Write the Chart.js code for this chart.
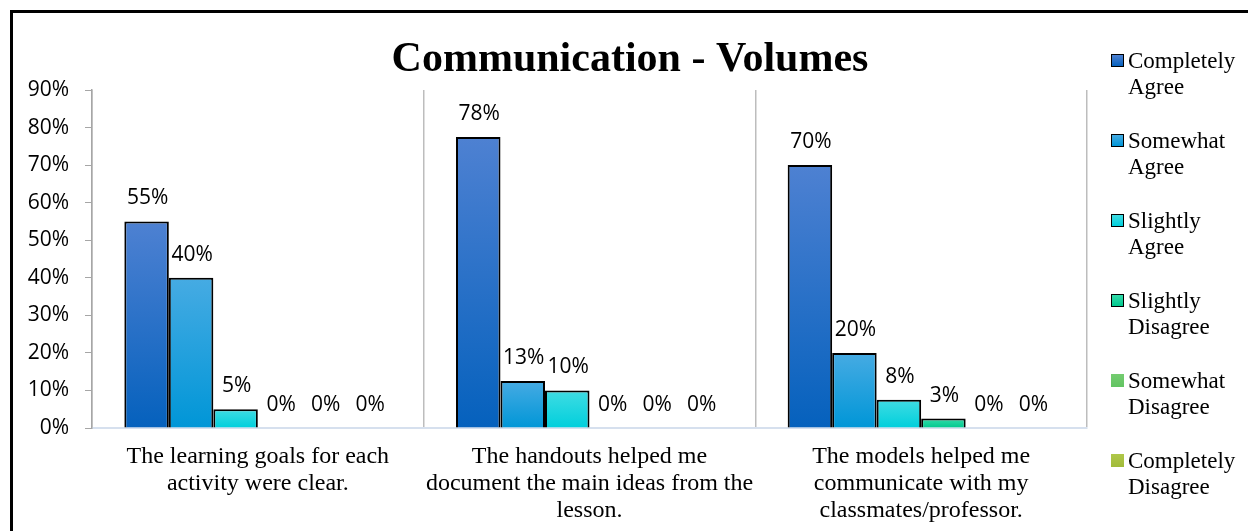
<!DOCTYPE html>
<html>
<head>
<meta charset="utf-8">
<script src="https://cdn.jsdelivr.net/npm/chart.js@4.4.1/dist/chart.umd.min.js"></script>
<style>
    html, body { margin: 0; padding: 0; background: #fff; overflow: hidden; }
    #wrap { position: relative; width: 1248px; height: 531px; }
    #chart { position: absolute; left: 0; top: 0; }
    #frame { position: absolute; left: 10px; top: 10px; width: 1400px; height: 700px; border: 3px solid #000; pointer-events: none; }
    #legend { position: absolute; left: 1111px; top: 48px; font-family: 'Liberation Serif', 'Times New Roman', serif; font-size: 23px; line-height: 26px; color: #000; }
    .item { position: relative; height: 80px; padding-left: 17px; width: 125px; }
    .box { position: absolute; left: 0; top: 6px; width: 11px; height: 11px; border: 1px solid #000; }
    .box.flat { border: none; width: 13px; height: 13px; }
</style>
</head>
<body>
<div id="wrap">
    <canvas id="chart" width="1248" height="531"></canvas>
    <div id="legend"></div>
    <div id="frame"></div>
</div>
<script>
// categories and values (percent)
const categories = [
    ['The learning goals for each', 'activity were clear.'],
    ['The handouts helped me', 'document the main ideas from the', 'lesson.'],
    ['The models helped me', 'communicate with my', 'classmates/professor.']
];
const seriesNames = ['Completely Agree', 'Somewhat Agree', 'Slightly Agree', 'Slightly Disagree', 'Somewhat Disagree', 'Completely Disagree'];
const completelyAgree = [55, 77.5, 70];
const somewhatAgree = [40, 12.5, 20];
const slightlyAgree = [5, 10, 7.5];
const slightlyDisagree = [0, 0, 2.5];
const somewhatDisagree = [0, 0, 0];
const completelyDisagree = [0, 0, 0];
const yMin = 0, yMax = 90, yStep = 10;

// top/bottom gradient colours for each series
const seriesColors = [
    ['#4e81d2', '#0561bd'],
    ['#46abe3', '#0096d7'],
    ['#40dce3', '#00cfdc'],
    ['#33dbaa', '#00c88e'],
    ['#74cc70', '#62c462'],
    ['#afc749', '#a1bb3a']
];
const seriesBorder = [true, true, true, true, false, false];
const seriesData = [completelyAgree, somewhatAgree, slightlyAgree, slightlyDisagree, somewhatDisagree, completelyDisagree];

function barFill(colors) {
    return (ctx) => {
        const chart = ctx.chart;
        if (!chart.chartArea || ctx.type !== 'data') return colors[1];
        const y = chart.scales.y;
        const top = y.getPixelForValue(ctx.raw);
        const base = y.getPixelForValue(0);
        if (base - top < 1) return colors[1];
        const g = chart.ctx.createLinearGradient(0, top, 0, base);
        g.addColorStop(0, colors[0]);
        g.addColorStop(1, colors[1]);
        return g;
    };
}

// value labels above each bar
const valueLabels = {
    id: 'valueLabels',
    afterDatasetsDraw(chart) {
        const c = chart.ctx;
        c.save();
        c.font = '21px "Open Sans"';
        c.fillStyle = '#000';
        c.textAlign = 'center';
        c.textBaseline = 'middle';
        chart.data.datasets.forEach((ds, i) => {
            chart.getDatasetMeta(i).data.forEach((bar, j) => {
                c.fillText(Math.round(ds.data[j]) + '%', bar.x + 1, bar.y - 23);
            });
        });
        c.restore();
    }
};

const datasets = seriesNames.map((name, i) => ({
    label: name,
    data: seriesData[i],
    backgroundColor: barFill(seriesColors[i]),
    borderColor: '#000',
    borderWidth: (ctx) => ctx.raw > 0 ? 2 : 0,
    categoryPercentage: 0.805,
    barPercentage: 1
}));

new Chart(document.getElementById('chart'), {
    type: 'bar',
    data: { labels: categories, datasets: datasets },
    options: {
        responsive: false,
        animation: false,
        layout: { padding: { left: 12, right: 0, top: 0, bottom: 0 } },
        plugins: {
            legend: { display: false },
            tooltip: { enabled: false },
            title: {
                display: true,
                text: 'Communication - Volumes',
                color: '#000',
                font: { family: 'Liberation Serif', size: 42, weight: 'bold', lineHeight: 1 },
                padding: { top: 39, bottom: 9 }
            }
        },
        scales: {
            x: {
                offset: true,
                grid: { display: true, offset: true, color: '#bdbdbd', lineWidth: 1.5, drawTicks: false },
                border: { color: '#d6e0ee', width: 2 },
                ticks: {
                    color: '#000',
                    font: { family: 'Liberation Serif', size: 24, lineHeight: 1.125 },
                    padding: 15,
                    maxRotation: 0,
                    autoSkip: false
                },
                afterFit: (s) => { s.height = 103; }
            },
            y: {
                min: yMin,
                max: yMax,
                ticks: {
                    stepSize: yStep,
                    color: '#000',
                    font: { family: 'Open Sans', size: 21 },
                    padding: 16,
                    callback: (v) => v + '%'
                },
                grid: { drawOnChartArea: false, tickLength: 7, color: '#a6a6a6' },
                border: { color: '#a6a6a6', width: 1.5 },
                afterFit: (s) => { s.width = 80; }
            },
            y2: {
                type: 'linear',
                position: 'right',
                ticks: { display: false },
                grid: { display: false },
                border: { display: false },
                afterFit: (s) => { s.width = 161; }
            }
        }
    },
    plugins: [valueLabels]
});

// legend on the right
const legend = document.getElementById('legend');
seriesNames.forEach((name, i) => {
    const item = document.createElement('div');
    item.className = 'item';
    const box = document.createElement('span');
    box.className = seriesBorder[i] ? 'box' : 'box flat';
    box.style.background = 'linear-gradient(' + seriesColors[i][0] + ', ' + seriesColors[i][1] + ')';
    item.appendChild(box);
    item.appendChild(document.createTextNode(name));
    legend.appendChild(item);
});
</script>
</body>
</html>
